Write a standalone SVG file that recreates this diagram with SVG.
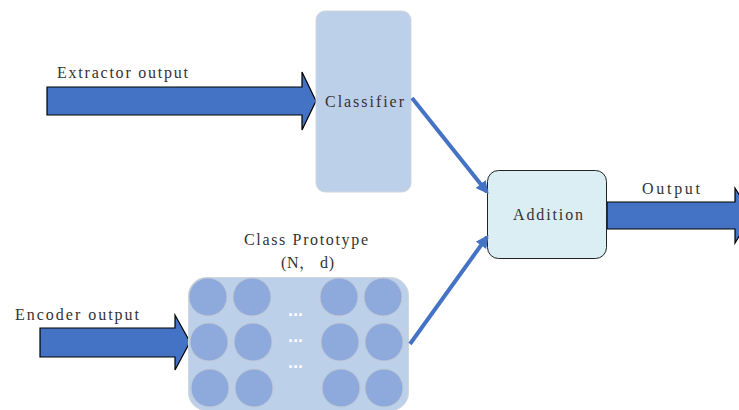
<svg xmlns="http://www.w3.org/2000/svg" width="739" height="410" viewBox="0 0 739 410">
  <style>
    .lbl { font-family: "Liberation Serif", "Noto Serif CJK SC", serif; font-size: 16px; fill: #333; }
    .fat { fill: #4472C4; stroke: #000; stroke-width: 1.2; stroke-linejoin: miter; }
    .conn { stroke: #4472C4; stroke-width: 4; fill: none; }
    .proto { fill: #8EA9DB; stroke: #C0C8D4; stroke-width: 1; }
    .dots { font-family: "Liberation Sans", sans-serif; font-size: 18px; fill: #fff; font-weight: bold; letter-spacing: -1px; }
  </style>
  <defs>
    <marker id="ah" viewBox="0 0 10 10" refX="8" refY="5" markerWidth="3.2" markerHeight="3.2" orient="auto" markerUnits="strokeWidth">
      <path d="M0,0 L10,5 L0,10 z" fill="#4472C4"/>
    </marker>
  </defs>
  <rect width="739" height="410" fill="#fff"/>

  <!-- input / output block arrows -->
  <g id="extractor-output">
    <polygon class="fat" points="47,87 302,87 302,72 316,101 302,130 302,115 47,115"/>
    <text class="lbl" x="57" y="78" textLength="131" lengthAdjust="spacing">Extractor output</text>
  </g>
  <g id="encoder-output">
    <polygon class="fat" points="40,328 175,328 175,315 190,342 175,370 175,357 40,357"/>
    <text class="lbl" x="15" y="320" textLength="124" lengthAdjust="spacing">Encoder output</text>
  </g>
  <g id="output">
    <polygon class="fat" points="607,202 735,202 735,188 752,215 735,243 735,229 607,229"/>
    <text class="lbl" x="642" y="194" textLength="58" lengthAdjust="spacing">Output</text>
  </g>

  <!-- classifier -->
  <g id="classifier">
    <rect x="316" y="11" width="95" height="181" rx="9" fill="#BDD0E9" stroke="#D0D6DE" stroke-width="1"/>
    <text class="lbl" x="325" y="107" textLength="79" lengthAdjust="spacing">Classifier</text>
  </g>

  <!-- addition -->
  <g id="addition">
    <rect x="487.5" y="170.5" width="119" height="88" rx="11" fill="#DAEEF3" stroke="#222" stroke-width="1"/>
    <text class="lbl" x="513" y="220" textLength="70" lengthAdjust="spacing">Addition</text>
  </g>

  <!-- class prototype matrix -->
  <g id="class-prototype">
    <text class="lbl" x="244" y="245" textLength="124" lengthAdjust="spacing">Class Prototype</text>
    <text class="lbl" x="281" y="268" textLength="53" lengthAdjust="spacing">(N， d)</text>
    <rect x="188.5" y="277.5" width="220" height="133" rx="18" fill="#BDD0E9" stroke="#D0D6DE" stroke-width="1"/>
    <circle class="proto" cx="208" cy="297" r="19"/>
    <circle class="proto" cx="252" cy="297" r="19"/>
    <circle class="proto" cx="339" cy="297" r="19"/>
    <circle class="proto" cx="383" cy="297" r="19"/>
    <circle class="proto" cx="209" cy="342" r="19"/>
    <circle class="proto" cx="253" cy="342" r="19"/>
    <circle class="proto" cx="340" cy="342" r="19"/>
    <circle class="proto" cx="384" cy="342" r="19"/>
    <circle class="proto" cx="210" cy="388" r="19"/>
    <circle class="proto" cx="254" cy="388" r="19"/>
    <circle class="proto" cx="341" cy="388" r="19"/>
    <circle class="proto" cx="384" cy="388" r="19"/>
    <text class="dots" x="288" y="321">···</text>
    <text class="dots" x="288" y="347">···</text>
    <text class="dots" x="288" y="373">···</text>
  </g>

  <!-- connectors into addition -->
  <g id="connectors">
    <line class="conn" x1="412" y1="98" x2="487" y2="192" marker-end="url(#ah)"/>
    <line class="conn" x1="410" y1="344" x2="487" y2="237" marker-end="url(#ah)"/>
  </g>
</svg>
